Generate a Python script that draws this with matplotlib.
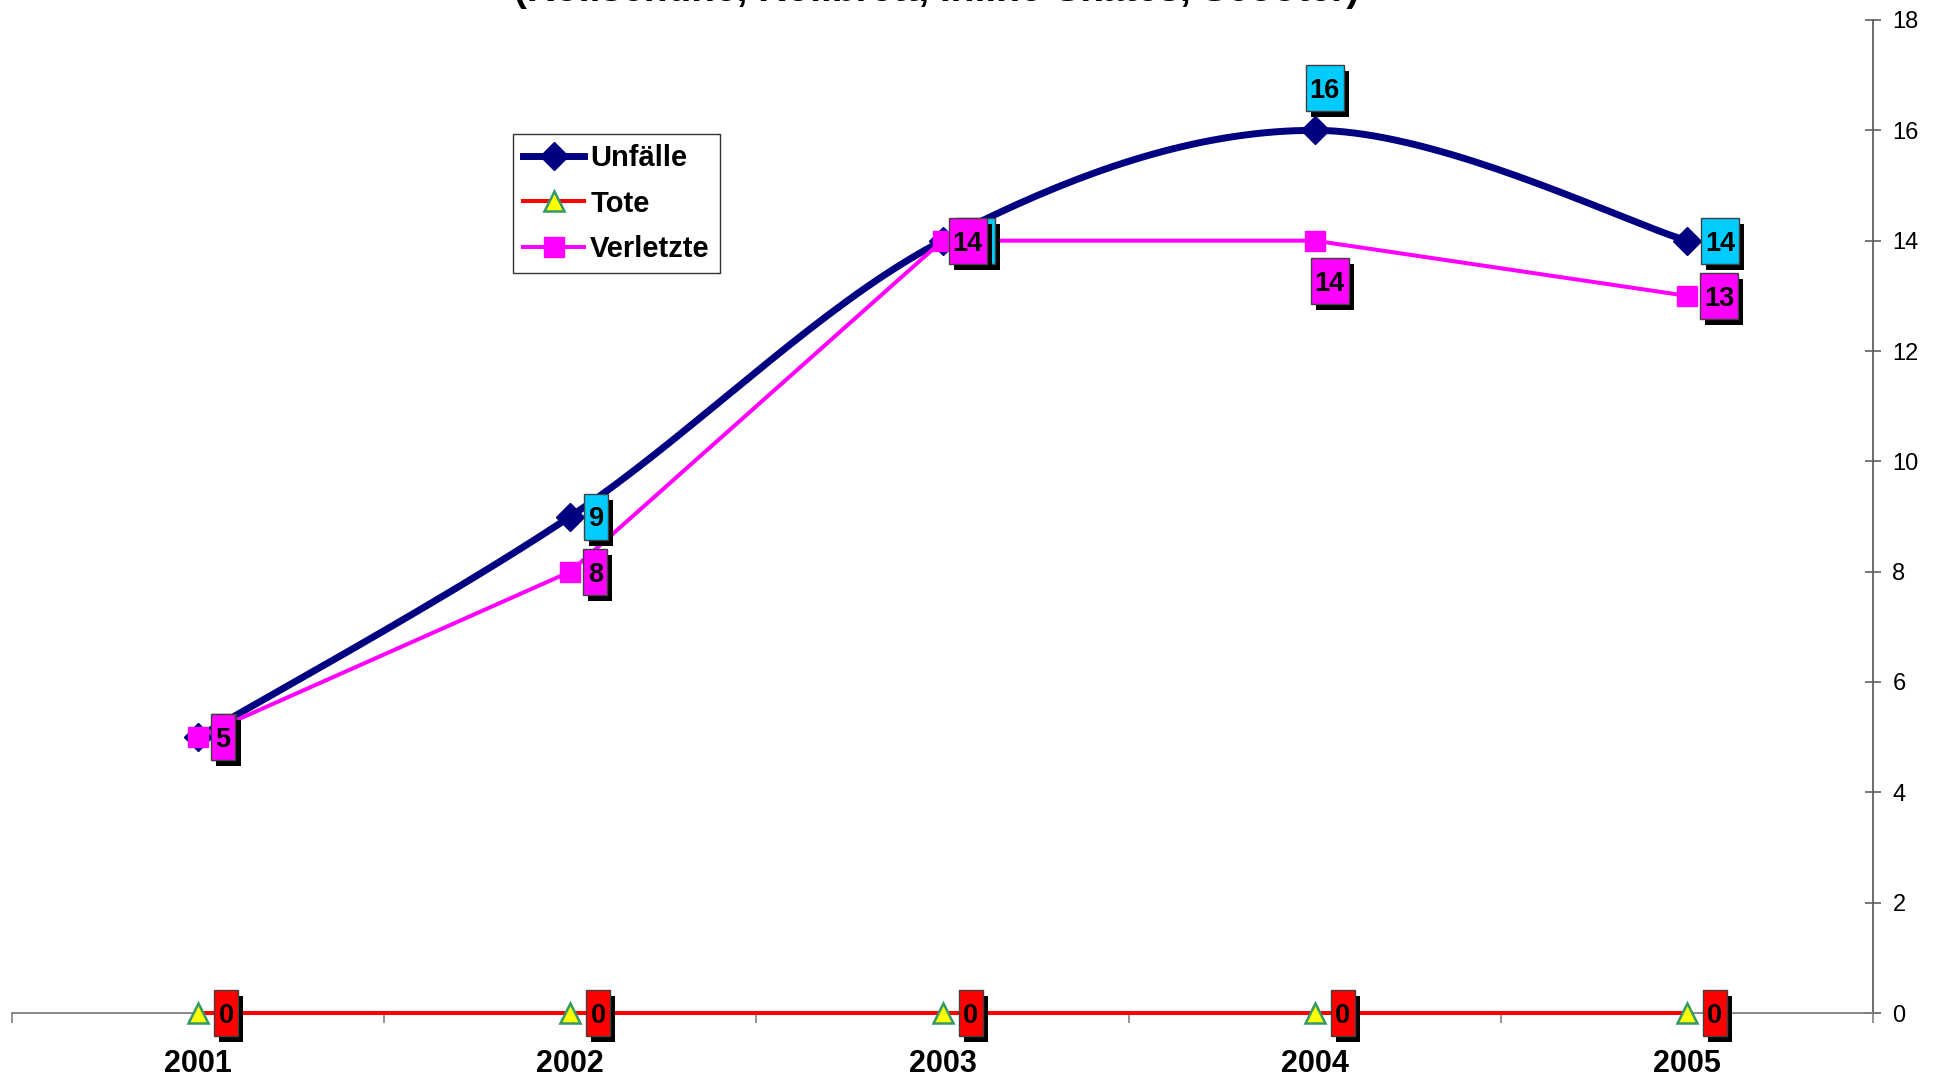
import numpy as np
import matplotlib
matplotlib.use("Agg")
import matplotlib.pyplot as plt
from matplotlib.patches import Rectangle
from matplotlib.transforms import IdentityTransform

plt.rcParams['font.family'] = ['Liberation Sans', 'DejaVu Sans']

# data
years = ['2001', '2002', '2003', '2004', '2005']
unfaelle = [5, 9, 14, 16, 14]
tote = [0, 0, 0, 0, 0]
verletzte = [5, 8, 14, 14, 13]
y_ticks = [0, 2, 4, 6, 8, 10, 12, 14, 16, 18]

NAVY = '#000080'
CYAN = '#00CCFF'
MAGENTA = '#FF00FF'
RED = '#FF0000'


def smooth(xs, ys, n=40):
    """Excel-like smoothed line: cubic Bezier with neighbour-based control points."""
    P = np.column_stack([xs, ys]).astype(float)
    pts = []
    for i in range(len(P) - 1):
        p0 = P[max(i - 1, 0)]
        p1, p2 = P[i], P[i + 1]
        p3 = P[min(i + 2, len(P) - 1)]
        c1 = p1 + (p2 - p0) / 6
        c2 = p2 - (p3 - p1) / 6
        t = np.linspace(0, 1, n)[:, None]
        seg = ((1 - t) ** 3) * p1 + 3 * ((1 - t) ** 2) * t * c1 + 3 * (1 - t) * t ** 2 * c2 + t ** 3 * p2
        pts.append(seg if i == 0 else seg[1:])
    pts = np.vstack(pts)
    return pts[:, 0], pts[:, 1]


z_label = [10]


def label(ax, x, y, txt, color, dx=14, dy=0, center=False):
    # box drawn in pixel space: shadow first, then the coloured box with the text
    px, py = ax.transData.transform((x, y))
    w = 10 + 14 * len(txt)
    h = 46
    left = px + dx - (w / 2 if center else 0)
    bottom = py + dy - h / 2
    z = z_label[0]
    z_label[0] += 3
    ax.add_patch(Rectangle((left + 5, bottom - 6), w, h, fc='black', ec='none',
                           transform=IdentityTransform(), clip_on=False, zorder=z))
    ax.add_patch(Rectangle((left, bottom), w, h, fc=color, ec='#404040', lw=1,
                           transform=IdentityTransform(), clip_on=False, zorder=z + 1))
    ax.text(left + w / 2, bottom + h / 2, txt, ha='center', va='center_baseline',
            fontsize=19.5, fontweight='bold', color='black',
            transform=IdentityTransform(), zorder=z + 2)


fig = plt.figure(figsize=(19.42, 10.8), dpi=100)
ax = fig.add_axes([12 / 1942, 1 - 1013 / 1080, (1873 - 12) / 1942, (1013 - 20) / 1080])
ax.set_xlim(-0.5, len(years) - 0.5)
ax.set_ylim(0, 18)

xpos = np.arange(len(years))

# Unfälle (smoothed)
sx, sy = smooth(xpos, unfaelle)
ax.plot(sx, sy, color=NAVY, lw=5, solid_capstyle='round', zorder=3)
ax.plot(xpos, unfaelle, ls='none', marker='D', ms=14, color=NAVY, zorder=3)
h_u, = ax.plot([], [], color=NAVY, lw=5, marker='D', ms=14, label='Unfälle')

# Tote
h_t, = ax.plot(xpos, tote, color=RED, lw=2.9, marker='^', ms=14, mfc='#FFFF00',
               mec='#339966', mew=1.8, label='Tote', zorder=4, clip_on=False)

# Verletzte
h_v, = ax.plot(xpos, verletzte, color=MAGENTA, lw=2.9, marker='s', ms=14,
               mfc=MAGENTA, mec=MAGENTA, label='Verletzte', zorder=4)

# data labels
for i, v in enumerate(unfaelle):
    if i == 3:
        label(ax, xpos[i], v, str(v), CYAN, dx=10, dy=42, center=True)
    else:
        label(ax, xpos[i], v, str(v), CYAN, dx=14)
for i, v in enumerate(verletzte):
    if i == 3:
        label(ax, xpos[i], v, str(v), MAGENTA, dx=15, dy=-40, center=True)
    elif i == 2:
        label(ax, xpos[i], v, str(v), MAGENTA, dx=6)
    else:
        label(ax, xpos[i], v, str(v), MAGENTA, dx=13)
for i, v in enumerate(tote):
    label(ax, xpos[i], v, str(v), RED, dx=16)

# axes
for s in ['top', 'left']:
    ax.spines[s].set_visible(False)
ax.spines['right'].set_color('#606060')
ax.spines['bottom'].set_color('#808080')
ax.spines['right'].set_linewidth(1.3)
ax.spines['bottom'].set_linewidth(1.3)

ax.yaxis.tick_right()
ax.set_yticks(y_ticks)
ax.tick_params(axis='y', direction='inout', length=12, width=1.2, color='#606060',
               labelsize=17, pad=8)

ax.set_xticks(xpos)
ax.set_xticklabels(years, fontsize=22, fontweight='bold')
ax.set_xticks(np.arange(-0.5, len(years), 1.0), minor=True)
ax.tick_params(axis='x', which='major', length=0, pad=26)
ax.tick_params(axis='x', which='minor', length=7, width=1.2, color='#808080', direction='out')

leg = ax.legend(handles=[h_u, h_t, h_v],
                loc='upper left', bbox_to_anchor=(513 / 1942, 1 - 134 / 1080),
                bbox_transform=fig.transFigure, borderaxespad=0, frameon=True,
                fancybox=False, prop=dict(size=21, weight='bold'), handlelength=2.1,
                handletextpad=0.2, labelspacing=0.6, borderpad=0.35)
leg.get_frame().set_edgecolor('black')
leg.get_frame().set_linewidth(1)

# title (cut off at top of image)
fig.text(937 / 1942, 1 - 1 / 1080, '(Rollschuhe, Rollbrett, Inline-Skates, Scooter)',
         ha='center', va='baseline', fontsize=28, fontweight='bold')

fig.savefig('out.png', dpi=100)
